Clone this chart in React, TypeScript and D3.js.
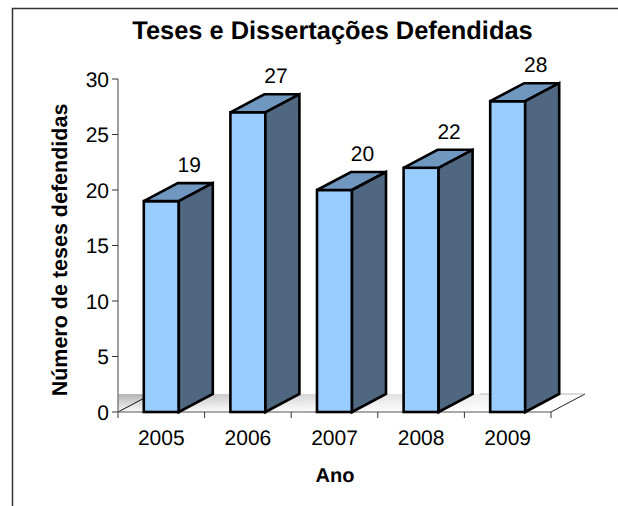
import React from "react";
import * as d3 from "d3";

const categories = ["2005", "2006", "2007", "2008", "2009"];
const values = [19, 27, 20, 22, 28];
const yTicks = [0, 5, 10, 15, 20, 25, 30];
const title = "Teses e Dissertações Defendidas";
const yTitle = "Número de teses defendidas";
const xTitle = "Ano";

const font = "'Liberation Sans', Arial, sans-serif";
const dx = 34;
const dy = -18;

export default function App() {
  const band = d3.scaleBand<string>().domain(categories).range([118, 551]);
  const y = d3.scaleLinear().domain([0, 30]).range([412, 79]);
  const y0 = y(0);
  const w = 35;
  const edges = [118, ...categories.map((c) => band(c)! + band.bandwidth())];
  const floorPts: [number, number][] = [[118, y0], [551, y0], [551 + dx, y0 + dy], [118 + dx, y0 + dy]];
  const floor = d3.line()(floorPts) + "Z";
  return (
    <svg width={618} height={506} textRendering="geometricPrecision" style={{ position: "absolute", left: 0, top: 0, display: "block" }}>
      <defs>
        <linearGradient id="wall" x1="0" y1="0" x2="0" y2="1">
          <stop offset="0" stopColor="#b4b4b4" />
          <stop offset="1" stopColor="#f8f8f8" />
        </linearGradient>
        <linearGradient id="floor" x1="0" y1="0" x2="0" y2="1">
          <stop offset="0" stopColor="#bcbcbc" />
          <stop offset="1" stopColor="#fbfbfb" />
        </linearGradient>
        <linearGradient id="floorH" x1="0" y1="0" x2="1" y2="0">
          <stop offset="0" stopColor="#ffffff" stopOpacity="0" />
          <stop offset="0.45" stopColor="#ffffff" stopOpacity="0.45" />
          <stop offset="0.85" stopColor="#ffffff" stopOpacity="0.8" />
          <stop offset="1" stopColor="#ffffff" stopOpacity="1" />
        </linearGradient>
      </defs>
      <rect width={618} height={506} fill="#fff" />
      <path d="M12.5,506V8.5H618" fill="none" stroke="#333" strokeWidth={1.5} />

      <rect x={118} y={y0 + dy} width={dx} height={-dy} fill="url(#wall)" />
      <path d={floor} fill="url(#floor)" />
      <path d={floor} fill="url(#floorH)" />
      <line x1={floorPts[0][0]} y1={floorPts[0][1]} x2={floorPts[3][0]} y2={floorPts[3][1]} stroke="#111" strokeWidth={1} />
      <line x1={floorPts[1][0]} y1={floorPts[1][1]} x2={floorPts[2][0]} y2={floorPts[2][1]} stroke="#222" strokeWidth={1} />
      <line x1={480} y1={floorPts[2][1]} x2={floorPts[2][0]} y2={floorPts[2][1]} stroke="#aaa" strokeWidth={0.8} />

      <line x1={118} x2={118} y1={79} y2={y0} stroke="#808080" strokeWidth={1.5} />
      <line x1={118} x2={551} y1={y0} y2={y0} stroke="#555" strokeWidth={1} />
      {yTicks.map((t) => (
        <g key={t}>
          <line x1={112} x2={118} y1={y(t)} y2={y(t)} stroke="#333" strokeWidth={1} />
          <text x={109} y={y(t) + 7.5} textAnchor="end" fontFamily={font} fontSize={21} fill="#000">{t}</text>
        </g>
      ))}
      {edges.map((e) => (
        <line key={e} x1={e} x2={e} y1={y0} y2={y0 + 6} stroke="#333" strokeWidth={1} />
      ))}

      {categories.map((c, i) => {
        const cx = band(c)! + band.bandwidth() / 2;
        const x0 = cx - w / 2;
        const top = y(values[i]);
        return (
          <g key={c} stroke="#000" strokeWidth={2.6} strokeLinejoin="miter">
            <rect x={x0} y={top} width={w} height={y0 - top} fill="#99ccff" />
            <path d={d3.line()([[x0, top], [x0 + dx, top + dy], [x0 + w + dx, top + dy], [x0 + w, top]]) + "Z"} fill="#7097bf" />
            <path d={d3.line()([[x0 + w, top], [x0 + w + dx, top + dy], [x0 + w + dx, y0 + dy], [x0 + w, y0]]) + "Z"} fill="#4f6780" />
          </g>
        );
      })}
      {categories.map((c, i) => (
        <text key={c} x={band(c)! + band.bandwidth() / 2 + 28} y={y(values[i]) + dy - 11} textAnchor="middle" fontFamily={font} fontSize={21} fill="#000">{values[i]}</text>
      ))}
      {categories.map((c) => (
        <text key={c} x={band(c)! + band.bandwidth() / 2} y={445} textAnchor="middle" fontFamily={font} fontSize={21} fill="#000">{c}</text>
      ))}
      <text x={332.5} y={39} textAnchor="middle" fontFamily={font} fontSize={25.4} fontWeight="bold" fill="#000">{title}</text>
      <text x={335} y={482} textAnchor="middle" fontFamily={font} fontSize={20} fontWeight="bold" fill="#000">{xTitle}</text>
      <text transform="translate(67,250) rotate(-90)" textAnchor="middle" fontFamily={font} fontSize={21.5} fontWeight="bold" fill="#000">{yTitle}</text>
    </svg>
  );
}
